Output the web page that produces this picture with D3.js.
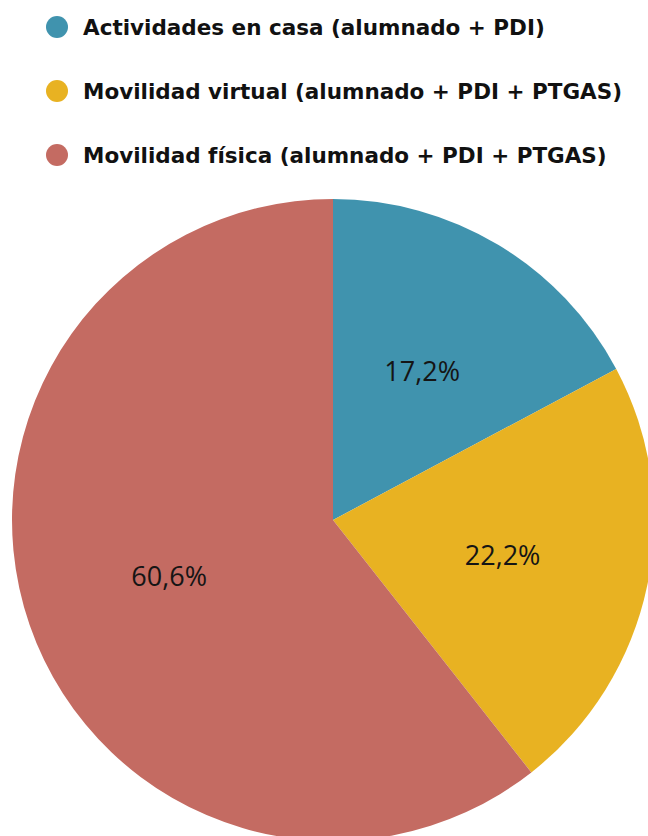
<!DOCTYPE html>
<html>
<head>
<meta charset="utf-8">
<script src="https://cdn.jsdelivr.net/npm/d3@7"></script>
<style>
  body { margin: 0; background: #fff; }
  svg { display: block; }
</style>
</head>
<body>
<div id="chart"></div>
<script>
var width = 648;
var height = 836;

// Data
const categories = [
    "Actividades en casa (alumnado + PDI)",
    "Movilidad virtual (alumnado + PDI + PTGAS)",
    "Movilidad física (alumnado + PDI + PTGAS)"
];
const values = [17.2, 22.2, 60.6];
const labels = ["17,2%", "22,2%", "60,6%"];
const colors = ["#4093ae", "#e8b222", "#c46b62"];

const data = categories.map((c, i) => ({ name: c, value: values[i], label: labels[i] }));

const svg = d3.select("#chart")
    .append("svg")
    .attr("width", width)
    .attr("height", height);

const color = d3.scaleOrdinal().domain(categories).range(colors);

// Legend
const legend = svg.append("g").attr("transform", "translate(57,27)");
const item = legend.selectAll("g")
    .data(data)
    .join("g")
    .attr("transform", (d, i) => `translate(0,${i * 64})`);

item.append("circle")
    .attr("r", 11)
    .attr("fill", (d) => color(d.name));

item.append("text")
    .attr("x", 26)
    .attr("dy", "0.36em")
    .attr("font-family", "'DejaVu Sans', sans-serif")
    .attr("font-weight", "bold")
    .attr("font-size", 21.5)
    .attr("fill", "#111")
    .text((d) => d.name);

// Pie
const radius = 321;
const g = svg.append("g").attr("transform", "translate(333,520)");

const pie = d3.pie().sort(null).value((d) => d.value);
const arc = d3.arc().innerRadius(0).outerRadius(radius);
const labelArc = d3.arc().innerRadius(radius * 0.54).outerRadius(radius * 0.54);

const arcs = pie(data);

g.selectAll("path")
    .data(arcs)
    .join("path")
    .attr("d", arc)
    .attr("fill", (d) => color(d.data.name));

g.selectAll("text")
    .data(arcs)
    .join("text")
    .attr("transform", (d) => `translate(${labelArc.centroid(d)})`)
    .attr("text-anchor", "middle")
    .attr("dy", "0.35em")
    .attr("font-family", "'Open Sans', sans-serif")
    .attr("font-size", 27)
    .attr("fill", "#151515")
    .text((d) => d.data.label);
</script>
</body>
</html>
